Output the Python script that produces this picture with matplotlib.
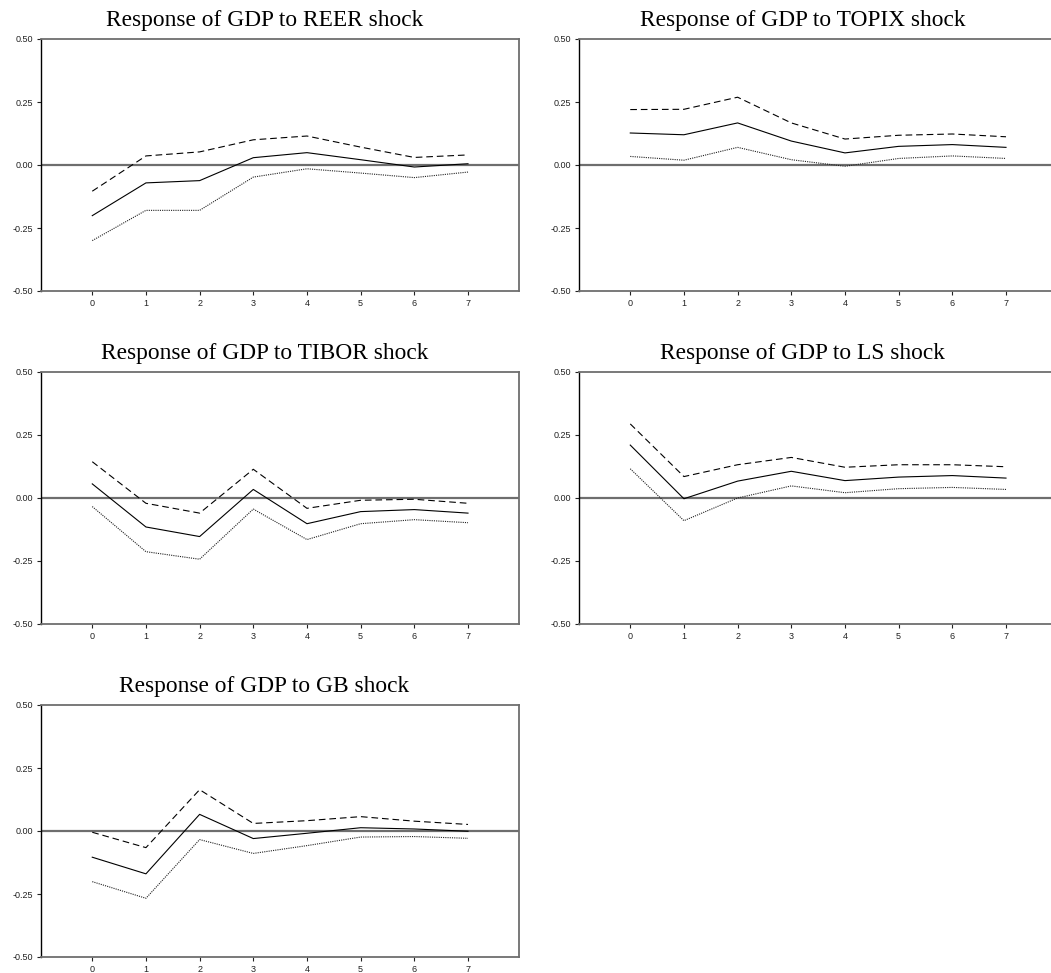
import matplotlib
matplotlib.use("Agg")
import matplotlib.pyplot as plt

W, H = 1051, 973

periods = [0, 1, 2, 3, 4, 5, 6, 7]

shocks = ["REER", "TOPIX", "TIBOR", "LS", "GB"]

reer_mid = [-0.201, -0.071, -0.062, 0.029, 0.049, 0.021, -0.008, 0.005]
reer_up = [-0.104, 0.036, 0.052, 0.100, 0.115, 0.071, 0.030, 0.040]
reer_lo = [-0.300, -0.180, -0.180, -0.048, -0.015, -0.032, -0.050, -0.028]

topix_mid = [0.127, 0.120, 0.167, 0.095, 0.048, 0.074, 0.081, 0.070]
topix_up = [0.220, 0.221, 0.269, 0.167, 0.103, 0.118, 0.123, 0.112]
topix_lo = [0.034, 0.019, 0.070, 0.021, -0.005, 0.026, 0.036, 0.026]

tibor_mid = [0.056, -0.115, -0.153, 0.034, -0.102, -0.054, -0.046, -0.060]
tibor_up = [0.144, -0.021, -0.060, 0.114, -0.041, -0.009, -0.005, -0.021]
tibor_lo = [-0.034, -0.213, -0.243, -0.044, -0.165, -0.102, -0.086, -0.098]

ls_mid = [0.210, -0.003, 0.067, 0.106, 0.069, 0.083, 0.089, 0.079]
ls_up = [0.294, 0.085, 0.132, 0.161, 0.122, 0.132, 0.132, 0.124]
ls_lo = [0.116, -0.090, 0.000, 0.048, 0.021, 0.037, 0.042, 0.034]

gb_mid = [-0.104, -0.170, 0.066, -0.030, -0.009, 0.013, 0.008, -0.001]
gb_up = [-0.005, -0.066, 0.164, 0.030, 0.041, 0.057, 0.039, 0.026]
gb_lo = [-0.201, -0.267, -0.034, -0.089, -0.058, -0.024, -0.022, -0.029]

responses = [
    (reer_mid, reer_up, reer_lo),
    (topix_mid, topix_up, topix_lo),
    (tibor_mid, tibor_up, tibor_lo),
    (ls_mid, ls_up, ls_lo),
    (gb_mid, gb_up, gb_lo),
]

yticks = [-0.50, -0.25, 0.00, 0.25, 0.50]

# axes boxes in pixels: left, top, right, bottom
boxes = [
    (41, 39, 519, 291),
    (579, 39, 1057, 291),
    (41, 372, 519, 624),
    (579, 372, 1057, 624),
    (41, 705, 519, 957),
]

fig = plt.figure(figsize=(W / 100, H / 100), dpi=100)
plt.rcParams['font.family'] = ['Liberation Sans', 'DejaVu Sans']

grey = '#6e6e6e'

for name, (mid, up, lo), (l, t, r, b) in zip(shocks, responses, boxes):
    ax = fig.add_axes([l / W, 1 - b / H, (r - l) / W, (b - t) / H])
    ax.axhline(0, color=grey, lw=1.6, zorder=1)
    ax.plot(periods, mid, color='black', lw=0.8, zorder=3)
    ax.plot(periods, up, color='black', lw=0.8, ls=(0, (6, 3.5)), zorder=3)
    ax.plot(periods, lo, color='#222222', lw=0.8, ls=(0, (1, 1)), zorder=3)

    ax.set_xlim(-0.955, 7.95)
    ax.set_ylim(-0.5, 0.5)
    ax.set_xticks(periods)
    ax.set_yticks(yticks)
    ax.set_yticklabels([f"{v:.2f}" for v in yticks])
    ax.tick_params(labelsize=6.5, length=3, width=0.8, pad=2.5, colors='#222222')

    ax.spines['left'].set_color('black')
    ax.spines['left'].set_linewidth(1.0)
    for s in ['top', 'bottom', 'right']:
        ax.spines[s].set_color(grey)
        ax.spines[s].set_linewidth(1.3)

    ax.text(0.4676, 1.052, f"Response of GDP to {name} shock",
            transform=ax.transAxes, ha='center', va='baseline',
            fontsize=16.8, family=['Liberation Serif', 'DejaVu Serif'])

fig.savefig("out.png", dpi=100)
